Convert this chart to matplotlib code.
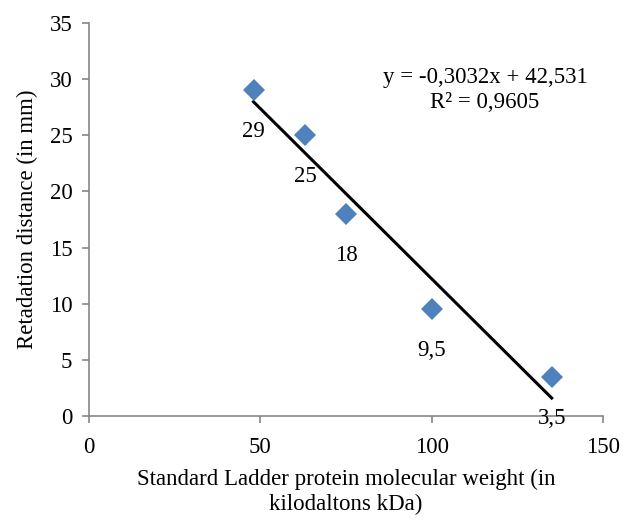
#!/usr/bin/env python3

"""Retardation distance vs standard ladder molecular weight, with linear trendline."""

import numpy as np
import matplotlib
matplotlib.use('Agg')
import matplotlib.pyplot as plt

plt.rcParams['font.family'] = ['Liberation Serif', 'DejaVu Serif']

# Data.
mol_weight = [48, 63, 75, 100, 135]
distance   = [29, 25, 18, 9.5, 3.5]
point_labels = ['29', '25', '18', '9,5', '3,5']

# Trendline as printed on the chart.
slope     = -0.3032
intercept = 42.531
equation  = 'y = -0,3032x + 42,531\nR² = 0,9605'

AXIS_GREY = '#868686'
MARKER_BLUE = '#4F81BD'
FS = 16.5

fig = plt.figure(figsize=(6.25, 5.21), dpi=100)
ax = fig.add_axes([0.1424, 0.2015, 0.8226, 0.7545])

# Trendline over the data range.
xs = np.array([min(mol_weight), max(mol_weight)])
ax.plot(xs, slope * xs + intercept, color='black', lw=2.2, zorder=2)

ax.plot(mol_weight, distance, linestyle='none', marker='D', markersize=11,
        color=MARKER_BLUE, markeredgewidth=0, zorder=3)

# Data labels below each point.
for x, y, lab in zip(mol_weight, distance, point_labels):
    ax.annotate(lab, (x, y), xytext=(0, -30), textcoords='offset points',
                ha='center', va='center', fontsize=FS, zorder=4)

ax.text(0.77, 0.83, equation, transform=ax.transAxes, ha='center', va='center',
        fontsize=FS, linespacing=1.25)

ax.set_xlim(0, 150)
ax.set_ylim(0, 35)
ax.set_xticks([0, 50, 100, 150])
ax.set_yticks(range(0, 36, 5))

for side in ['top', 'right']:
    ax.spines[side].set_visible(False)
for side in ['left', 'bottom']:
    ax.spines[side].set_color(AXIS_GREY)
    ax.spines[side].set_linewidth(1.2)
ax.tick_params(colors=AXIS_GREY, labelcolor='black', labelsize=FS, length=5, width=1.2)
ax.tick_params(axis='x', pad=10)
ax.tick_params(axis='y', pad=7)

ax.set_xlabel('Standard Ladder protein molecular weight (in\nkilodaltons kDa)',
              fontsize=FS, labelpad=8, linespacing=1.2)
ax.set_ylabel('Retadation distance (in mm)', fontsize=FS, labelpad=8)

fig.savefig('out.png', dpi=100)
